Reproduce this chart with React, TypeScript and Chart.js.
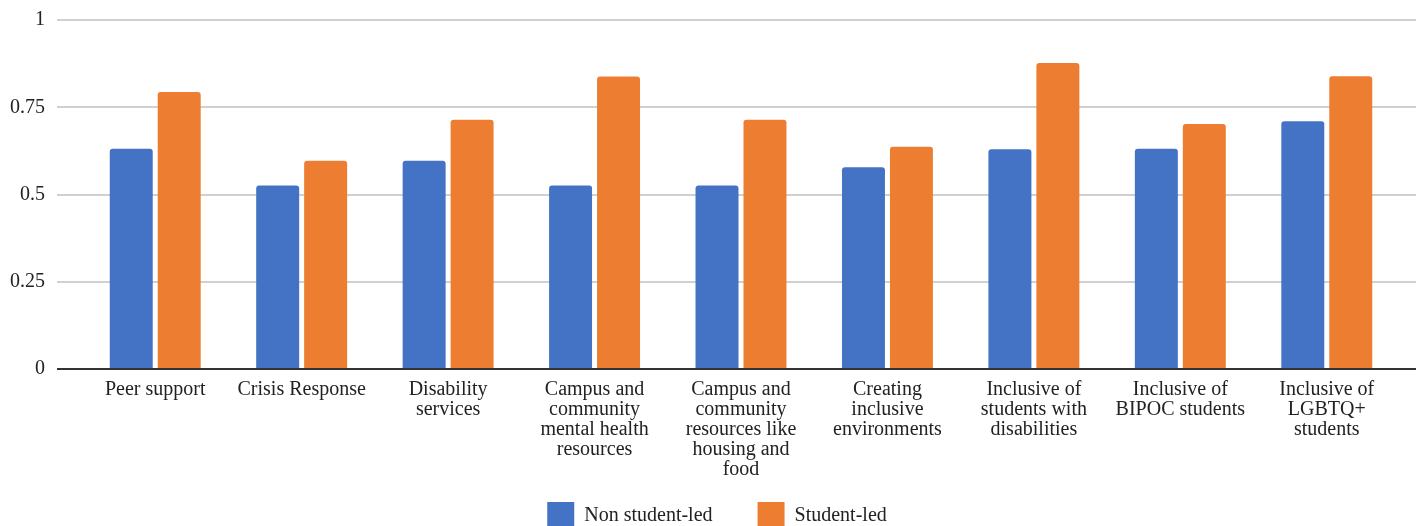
import React, { useEffect, useRef } from "react";
import { Chart, registerables } from "chart.js";

Chart.register(...registerables);

const categories: (string | string[])[] = [
  "Peer support",
  "Crisis Response",
  ["Disability", "services"],
  ["Campus and", "community", "mental health", "resources"],
  ["Campus and", "community", "resources like", "housing and", "food"],
  ["Creating", "inclusive", "environments"],
  ["Inclusive of", "students with", "disabilities"],
  ["Inclusive of", "BIPOC students"],
  ["Inclusive of", "LGBTQ+", "students"],
];

const nonStudentLed = [0.631, 0.526, 0.597, 0.526, 0.526, 0.578, 0.63, 0.631, 0.71];
const studentLed = [0.794, 0.597, 0.714, 0.838, 0.714, 0.637, 0.877, 0.702, 0.839];

const seriesNames = ["Non student-led", "Student-led"];
const seriesColors = ["#4472C4", "#ED7D31"];
const yTicks = [0, 0.25, 0.5, 0.75, 1];

const FONT = "'Liberation Serif', 'Times New Roman', serif";

const gridPlugin = {
  id: "extGrid",
  beforeDatasetsDraw(chart: any) {
    const { ctx, chartArea, scales } = chart;
    const y = scales.y;
    ctx.save();
    ctx.strokeStyle = "#d0d0d0";
    ctx.lineWidth = 2;
    yTicks.forEach((v) => {
      if (v === 0) return;
      const py = Math.round(y.getPixelForValue(v));
      ctx.beginPath();
      ctx.moveTo(chartArea.left - 25, py);
      ctx.lineTo(chart.width, py);
      ctx.stroke();
    });
    ctx.restore();
  },
  afterDatasetsDraw(chart: any) {
    const { ctx, chartArea, scales } = chart;
    const py = Math.round(scales.y.getPixelForValue(0));
    ctx.save();
    ctx.strokeStyle = "#333333";
    ctx.lineWidth = 2;
    ctx.beginPath();
    ctx.moveTo(chartArea.left - 25, py);
    ctx.lineTo(chart.width, py);
    ctx.stroke();
    ctx.restore();
  },
  afterLayout(chart: any) {
    const x = chart.scales.x;
    if (x) x.bottom = chart.height;
    const lg = chart.legend;
    if (!lg) return;
    const shift = 17;
    lg.left += shift;
    lg.right += shift;
    const targetTop = chart.chartArea.bottom + 133 - 45;
    const h = lg.bottom - lg.top;
    lg.top = targetTop;
    lg.bottom = targetTop + h;
  },
};

export default function App() {
  const ref = useRef<HTMLCanvasElement | null>(null);

  useEffect(() => {
    if (!ref.current) return;
    const chart = new Chart(ref.current, {
      type: "bar",
      data: {
        labels: categories,
        datasets: [
          {
            label: seriesNames[0],
            data: nonStudentLed,
            backgroundColor: seriesColors[0],
            borderRadius: 3,
          },
          {
            label: seriesNames[1],
            data: studentLed,
            backgroundColor: seriesColors[1],
            borderRadius: 3,
          },
        ],
      },
      options: {
        animation: false,
        responsive: true,
        maintainAspectRatio: false,
        datasets: {
          bar: { categoryPercentage: 0.655, barPercentage: 0.896 },
        },
        layout: { padding: { top: 20, right: 16, left: 0, bottom: 0 } },
        plugins: {
          legend: {
            position: "bottom",
            labels: {
              boxWidth: 27,
              boxHeight: 27,
              padding: 45,
              color: "#222",
              font: { family: FONT, size: 20 },
            },
          },
          tooltip: { enabled: false },
        },
        scales: {
          x: {
            grid: { display: false, drawTicks: false },
            border: { display: false },
            afterFit: (scale: any) => {
              scale.height = 75;
            },
            ticks: {
              color: "#222",
              font: { family: FONT, size: 20, lineHeight: 1 },
              padding: 11,
              maxRotation: 0,
              minRotation: 0,
              autoSkip: false,
            },
          },
          y: {
            min: 0,
            max: 1,
            grid: { display: false, drawTicks: false },
            border: { display: false },
            afterFit: (scale: any) => {
              scale.width = 82;
              scale.paddingTop = 10;
              scale.paddingBottom = 10;
            },
            ticks: {
              stepSize: 0.25,
              color: "#222",
              font: { family: FONT, size: 20 },
              padding: 37,
              callback: (v: any) => String(v),
            },
          },
        },
      },
      plugins: [gridPlugin],
    });
    return () => chart.destroy();
  }, []);

  return (
    <div
      style={{
        position: "absolute",
        left: 0,
        top: 0,
        width: 1416,
        height: 526,
        overflow: "hidden",
        background: "#fff",
      }}
    >
      <div style={{ position: "relative", width: 1416, height: 526 }}>
        <canvas ref={ref} />
      </div>
    </div>
  );
}
